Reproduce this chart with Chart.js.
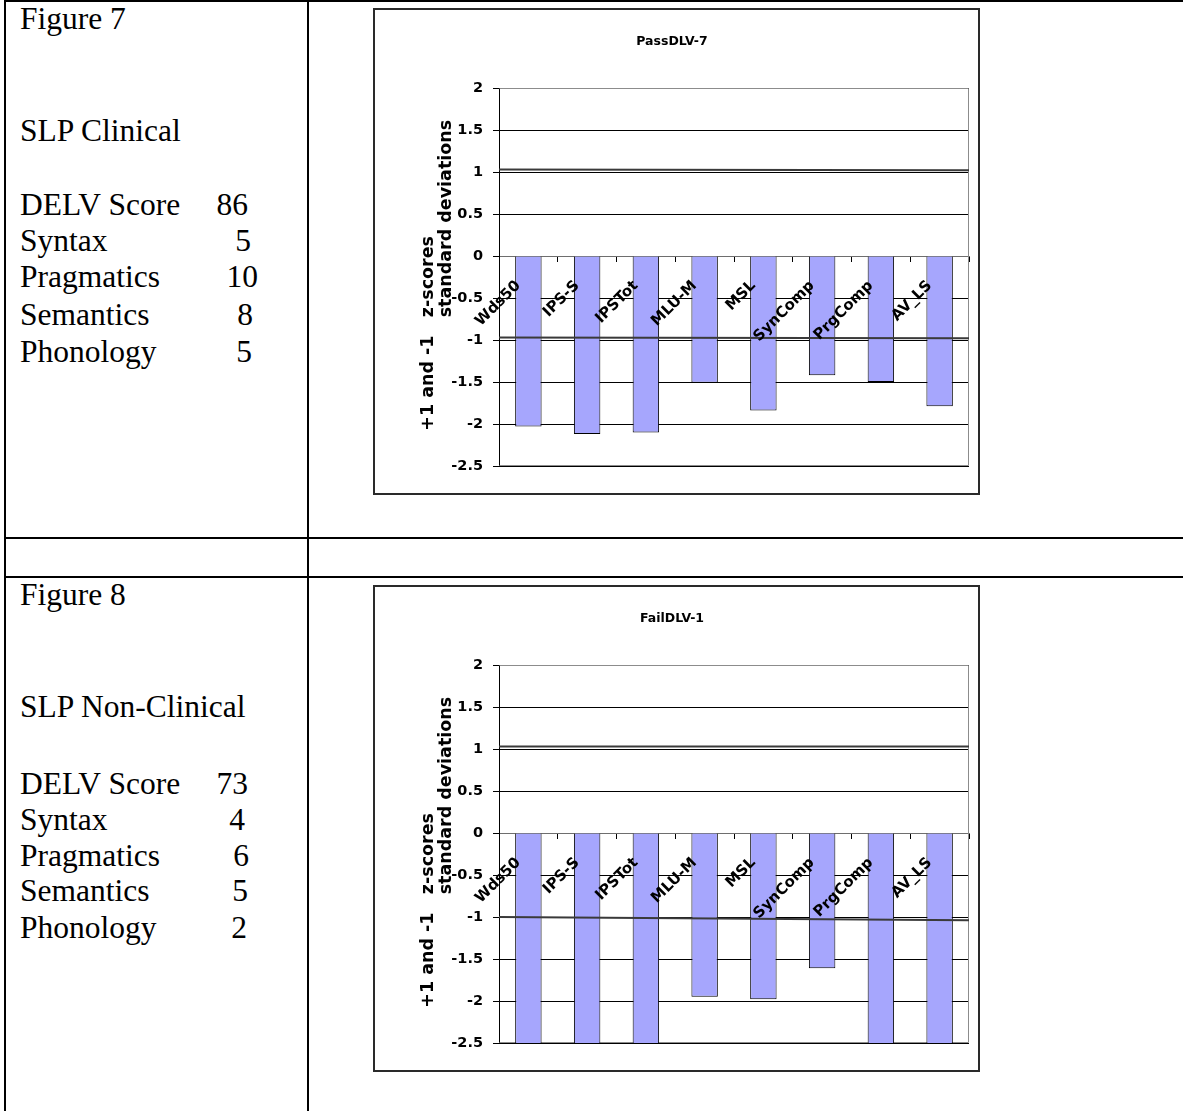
<!DOCTYPE html>
<html>
<head>
<meta charset="utf-8">
<title>DELV z-scores</title>
<script src="https://cdn.jsdelivr.net/npm/chart.js@4.4.1/dist/chart.umd.min.js"></script>
<style>
  html, body { margin: 0; padding: 0; background: #fff; }
  body { width: 1183px; height: 1111px; position: relative; overflow: hidden;
         font-family: "Liberation Serif", "Times New Roman", serif; color: #000; }
  .rule { position: absolute; background: #000; }
  .txt { position: absolute; font-size: 31.5px; line-height: 31.5px; white-space: pre; }
  .num { text-align: right; width: 80px; }
  .box { position: absolute; left: 373px; width: 603px; height: 483px; border: 2px solid #2a2a2a; background: #fff; }
  .box canvas { display: block; }
</style>
</head>
<body>

<!-- table rules -->
<div class="rule" style="left:4px;top:0;width:1179px;height:2px"></div>
<div class="rule" style="left:4px;top:0;width:2px;height:1111px"></div>
<div class="rule" style="left:307px;top:0;width:2px;height:1111px"></div>
<div class="rule" style="left:4px;top:537px;width:1179px;height:2px"></div>
<div class="rule" style="left:4px;top:576px;width:1179px;height:2px"></div>

<div id="fig7text"></div>
<div id="fig8text"></div>

<div class="box" style="top:8px"><canvas id="pass7" width="603" height="483"></canvas></div>
<div class="box" style="top:585px"><canvas id="fail1" width="603" height="483"></canvas></div>

<script>
// measures shown on both charts
const categories = ['Wds50', 'IPS-S', 'IPSTot', 'MLU-M', 'MSL', 'SynComp', 'PrgComp', 'AV_LS'];
const yTicks = [-2.5, -2, -1.5, -1, -0.5, 0, 0.5, 1, 1.5, 2];

// PassDLV-7 z-scores
const pass7Scores = [-2.03, -2.12, -2.10, -1.51, -1.84, -1.42, -1.50, -1.79];
// FailDLV-1 z-scores (several run past the -2.5 floor)
const fail1Scores = [-2.8, -2.8, -2.8, -1.95, -1.98, -1.61, -2.8, -2.8];

// +1 / -1 SD reference lines, value at left and right edge
const pass7Upper = [1.03, 1.02];
const pass7Lower = [-0.97, -0.98];
const fail1Upper = [1.03, 1.03];
const fail1Lower = [-1.0, -1.04];

// DELV scores listed beside each chart
const scoreNames = ['DELV Score', 'Syntax', 'Pragmatics', 'Semantics', 'Phonology'];
const pass7Delv = ['86', '5', '10', '8', '5'];
const fail1Delv = ['73', '4', '6', '5', '2'];

const yTitleLines = ['+1 and -1   z-scores', 'standard deviations'];

// ---- side text ----
function sideText(el, fig, group, values, baselines, numRight) {
  const asc = 26.4; // baseline offset for 31.5px serif at line-height 1
  const parts = [];
  parts.push(`<div class="txt" style="left:20px;top:${baselines[0] - asc}px">${fig}</div>`);
  parts.push(`<div class="txt" style="left:20px;top:${baselines[1] - asc}px">${group}</div>`);
  scoreNames.forEach((name, i) => {
    const top = baselines[i + 2] - asc;
    parts.push(`<div class="txt" style="left:20px;top:${top}px">${name}</div>`);
    parts.push(`<div class="txt num" style="left:${numRight[i] - 80}px;top:${top}px">${values[i]}</div>`);
  });
  document.getElementById(el).innerHTML = parts.join('');
}

sideText('fig7text', 'Figure 7', 'SLP Clinical', pass7Delv,
  [29, 141, 215, 251, 287, 325, 362], [248, 251, 258, 253, 252]);
sideText('fig8text', 'Figure 8', 'SLP Non-Clinical', fail1Delv,
  [605, 717, 794, 830, 866, 901, 938], [248, 245, 249, 248, 247]);

// ---- chart plugins ----
const plotFrame = {
  id: 'plotFrame',
  beforeDatasetsDraw(chart) {
    const { ctx, chartArea: a } = chart;
    const l = Math.round(a.left) + 0.5, r = Math.round(a.right) - 0.5;
    const t = Math.round(a.top) + 0.5, b = Math.round(a.bottom) - 0.5;
    ctx.save();
    ctx.strokeStyle = '#8c8c8c';
    ctx.lineWidth = 1;
    ctx.beginPath();
    ctx.moveTo(l, t); ctx.lineTo(r, t); ctx.lineTo(r, b); ctx.lineTo(l, b);
    ctx.stroke();
    ctx.restore();
  }
};

// two-line rotated axis title, each line starts at a value on the y scale
const yTitle = {
  id: 'yTitle',
  afterDraw(chart) {
    const { ctx, chartArea, scales: { y } } = chart;
    const spots = [
      { x: chartArea.left - 71, from: -2.08 },
      { x: chartArea.left - 53, from: -0.73 }
    ];
    ctx.save();
    ctx.font = 'bold 17.5px "DejaVu Sans"';
    ctx.fillStyle = '#000';
    ctx.textAlign = 'left';
    ctx.textBaseline = 'middle';
    yTitleLines.forEach((text, i) => {
      ctx.save();
      ctx.translate(spots[i].x, y.getPixelForValue(spots[i].from));
      ctx.rotate(-Math.PI / 2);
      ctx.fillText(text, 0, 0);
      ctx.restore();
    });
    ctx.restore();
  }
};

function refLine(pair) {
  return {
    type: 'line',
    xAxisID: 'xRef',
    data: [{ x: 0, y: pair[0] }, { x: 1, y: pair[1] }],
    borderColor: '#3a3a3a',
    borderWidth: 2,
    pointRadius: 0,
    order: 0
  };
}

function drawChart(canvasId, title, scores, upper, lower) {
  const ctx = document.getElementById(canvasId);
  return new Chart(ctx, {
    type: 'bar',
    data: {
      labels: categories,
      datasets: [
        {
          type: 'bar',
          data: scores,
          backgroundColor: '#a6a6fd',
          borderColor: '#000',
          borderWidth: 1,
          grouped: false,
          barPercentage: 0.45,
          categoryPercentage: 1,
          order: 1
        },
        refLine(upper),
        refLine(lower)
      ]
    },
    options: {
      responsive: false,
      devicePixelRatio: 1,
      animation: false,
      layout: { padding: { left: 0, right: 9, top: 0, bottom: 27 } },
      plugins: {
        legend: { display: false },
        tooltip: { enabled: false },
        title: {
          display: true,
          text: title,
          color: '#000',
          font: { family: 'DejaVu Sans', weight: 'bold', size: 12.5 },
          padding: { top: 24, bottom: 39 }
        }
      },
      scales: {
        x: {
          type: 'category',
          position: { y: 0 },
          offset: true,
          grid: { offset: true, drawOnChartArea: false, drawTicks: true, tickLength: 5, color: '#000' },
          border: { display: true, color: '#6e6e6e', width: 1 },
          ticks: {
            z: 1, // category names sit on top of the bars
            autoSkip: false,
            minRotation: 45,
            maxRotation: 45,
            labelOffset: -10,
            padding: 16,
            color: '#000',
            font: { family: 'DejaVu Sans', weight: 'bold', size: 15 }
          }
        },
        xRef: { type: 'linear', display: false, offset: false, min: 0, max: 1 },
        y: {
          min: -2.5,
          max: 2,
          afterBuildTicks: s => { s.ticks = yTicks.map(v => ({ value: v })); },
          afterFit: s => { s.width = 124; },
          grid: { color: '#000', lineWidth: 1, drawTicks: true, tickLength: 6 },
          border: { color: '#000', width: 1 },
          ticks: {
            callback: v => String(v),
            padding: 10,
            color: '#000',
            font: { family: 'DejaVu Sans', weight: 'bold', size: 14.5 }
          }
        }
      }
    },
    plugins: [plotFrame, yTitle]
  });
}

drawChart('pass7', 'PassDLV-7', pass7Scores, pass7Upper, pass7Lower);
drawChart('fail1', 'FailDLV-1', fail1Scores, fail1Upper, fail1Lower);
</script>
</body>
</html>
